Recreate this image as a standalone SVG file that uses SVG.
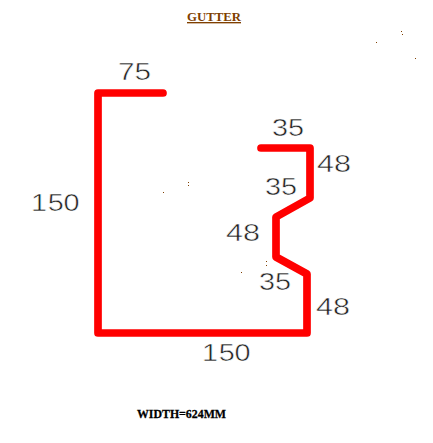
<svg xmlns="http://www.w3.org/2000/svg" width="433" height="443" viewBox="0 0 433 443">
<style>
.dim{font-family:"Liberation Sans",Arial,sans-serif;font-size:24px;fill:#222;stroke:#fff;stroke-width:.5px}
.title{font-family:"Liberation Serif","Times New Roman",serif;font-weight:bold;font-size:13.5px}
.dot{fill:#7f3f00}
</style>
<rect width="433" height="443" fill="#fff"/>
<g id="connectors">
<path id="profile" d="M163 93H98V333H307V274L276 257V217L310 198V148H261" fill="none" stroke="#f00" stroke-width="7.7" stroke-linecap="round" stroke-linejoin="round"/>
</g>
<g id="title"><text class="title" x="187" y="21" fill="#7f3f00" text-decoration="underline" textLength="54" lengthAdjust="spacingAndGlyphs">GUTTER</text></g>
<g id="note"><text class="title" x="137" y="418" fill="#000" stroke="#000" stroke-width=".3" textLength="89" lengthAdjust="spacingAndGlyphs">WIDTH=624MM</text></g>
<g id="labels">
<text class="dim" x="118" y="80" textLength="33" lengthAdjust="spacingAndGlyphs">75</text>
<text class="dim" x="272" y="136" textLength="32" lengthAdjust="spacingAndGlyphs">35</text>
<text class="dim" x="317" y="172" textLength="34" lengthAdjust="spacingAndGlyphs">48</text>
<text class="dim" x="265" y="195" textLength="32" lengthAdjust="spacingAndGlyphs">35</text>
<text class="dim" x="226" y="241" textLength="34" lengthAdjust="spacingAndGlyphs">48</text>
<text class="dim" x="259" y="290" textLength="32" lengthAdjust="spacingAndGlyphs">35</text>
<text class="dim" x="316" y="315" textLength="34" lengthAdjust="spacingAndGlyphs">48</text>
<text class="dim" transform="translate(31 211) scale(1.2 1)" x="0 14 27" y="0">150</text>
<text class="dim" transform="translate(202 361) scale(1.2 1)" x="0 14 27" y="0">150</text>
</g>
<g id="specks">
<rect class="dot" x="401" y="31" width="1" height="1"/>
<rect class="dot" x="402" y="34" width="1" height="1"/>
<rect class="dot" x="376" y="42" width="1" height="1"/>
<rect class="dot" x="415" y="58" width="1" height="1"/>
<rect class="dot" x="163" y="192" width="1" height="1"/>
<rect class="dot" x="188" y="182" width="1" height="1"/>
<rect class="dot" x="188" y="185" width="1" height="1"/>
<rect class="dot" x="266" y="261" width="1" height="1"/>
<rect class="dot" x="266" y="265" width="1" height="1"/>
<rect class="dot" x="241" y="272" width="1" height="1"/>
</g>
</svg>
